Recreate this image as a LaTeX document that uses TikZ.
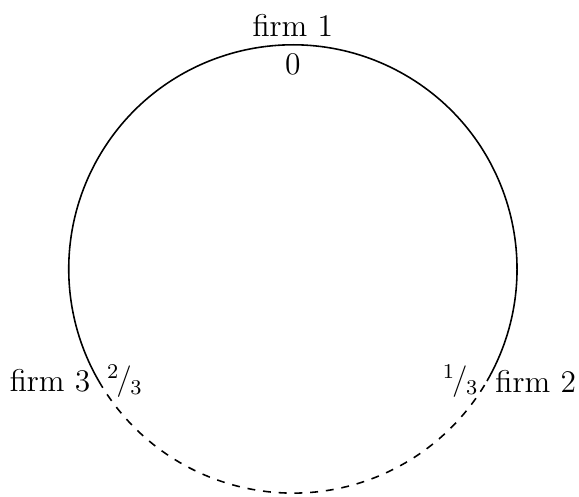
\documentclass[tikz,border=0pt]{standalone}
\usepackage{tikz}
\usetikzlibrary{positioning,calc}

\newcommand{\hfrac}[2]{\textsuperscript{#1}\kern-0.1em/\kern-0.05em\textsubscript{#2}}

\begin{document}
\begin{tikzpicture}[font=\fontsize{12}{14}\selectfont]
    % Define styles
    \tikzstyle{firm} = [inner sep=3pt]
    \tikzstyle{loc} = [inner sep=3pt]
    \tikzstyle{market} = [line width=0.6pt]

    \useasboundingbox (-3.92,-3.04) rectangle (3.83,3.60);

    % Firm locations on the circle
    \coordinate (c) at (0,0);
    \coordinate (p1) at (90:3);
    \coordinate (p2) at (-30:3);
    \coordinate (p3) at (210:3);

    % Circle: solid part and dashed part
    \draw[market] (p2) arc (-30:210:3);
    \draw[market, dashed] (p3) arc (210:330:3);

    % Labels
    \node[firm, above=0pt of p1] (f1) {firm 1};
    \node[loc, below=0pt of p1] (l1) {0};
    \node[firm, right=0pt of p2] (f2) {firm 2};
    \node[loc, left=0pt of p2] (l2) {\hfrac{1}{3}};
    \node[firm, left=0pt of p3] (f3) {firm 3};
    \node[loc, right=0pt of p3] (l3) {\hfrac{2}{3}};

\end{tikzpicture}
\end{document}
